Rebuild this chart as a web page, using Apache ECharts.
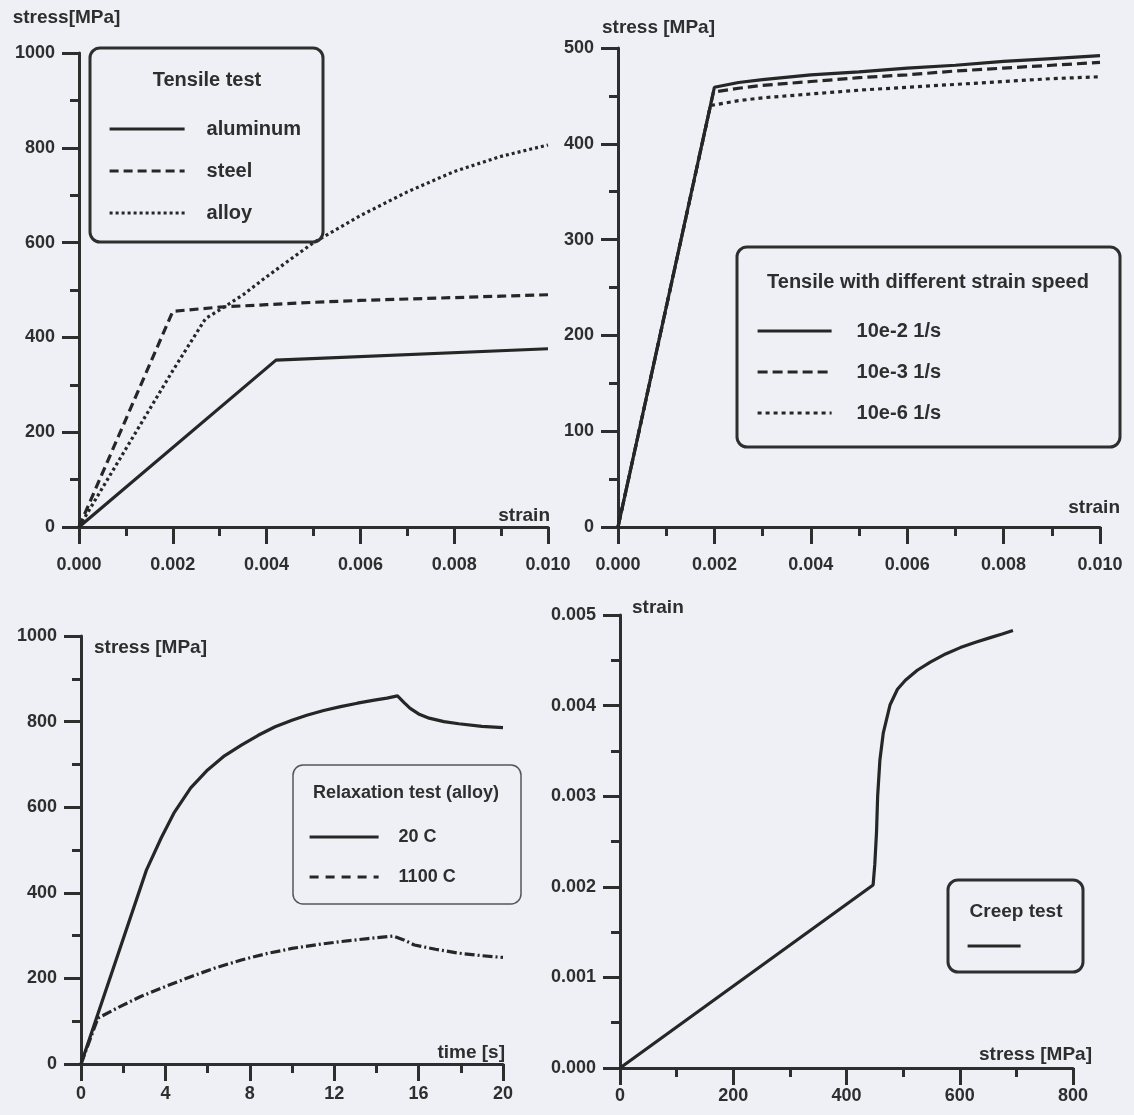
<!DOCTYPE html>
<html>
<head>
<meta charset="utf-8">
<script src="https://cdn.jsdelivr.net/npm/echarts@6/dist/echarts.min.js"></script>
<style>
html,body{margin:0;padding:0;background:#eef0f5;}
#c{width:1134px;height:1115px;}
</style>
</head>
<body>
<div id="c"></div>
<script>
// ---------- Chart 1: Tensile test ----------
const aluminumStrain = [0, 0.0042, 0.010];
const aluminumStress = [0, 352, 376];
const steelStrain = [0, 0.002, 0.003, 0.004, 0.005, 0.006, 0.007, 0.008, 0.009, 0.010];
const steelStress = [0, 455, 464, 469, 474, 478, 481, 484, 487, 490];
const alloyStrain = [0, 0.001, 0.002, 0.0027, 0.003, 0.0035, 0.004, 0.005, 0.006, 0.007, 0.008, 0.009, 0.010];
const alloyStress = [0, 165, 330, 440, 458, 490, 528, 600, 657, 707, 750, 782, 806];

// ---------- Chart 2: strain speed ----------
const speed2Strain = [0, 0.002, 0.0025, 0.003, 0.004, 0.005, 0.006, 0.007, 0.008, 0.009, 0.010];
const speed2Stress = [0, 459, 464, 467, 472, 475, 479, 482, 486, 489, 492];
const speed3Strain = [0, 0.00198, 0.0025, 0.003, 0.004, 0.005, 0.006, 0.007, 0.008, 0.009, 0.010];
const speed3Stress = [0, 454, 458, 461, 465, 469, 472, 476, 479, 482, 485];
const speed6Strain = [0, 0.00192, 0.0025, 0.003, 0.004, 0.005, 0.006, 0.007, 0.008, 0.009, 0.010];
const speed6Stress = [0, 440, 445, 448, 452, 456, 459, 462, 465, 468, 470];

// ---------- Chart 3: Relaxation test ----------
const relax20Time = [0, 3.1, 3.8, 4.4, 5.2, 6.0, 6.8, 7.6, 8.4, 9.2, 10.0, 10.7, 11.5, 12.3, 13.1, 13.9, 14.5, 15.0, 15.3, 15.6, 16.0, 16.5, 17.2, 17.9, 19.0, 20];
const relax20Stress = [0, 453, 528, 586, 645, 687, 720, 745, 768, 788, 803, 815, 826, 835, 843, 850, 855, 860, 845, 831, 818, 808, 800, 795, 789, 786];
const relax1100Time = [0, 0.8, 1.8, 2.8, 4.0, 5.2, 6.4, 7.6, 8.8, 10.0, 11.2, 12.3, 13.6, 14.8, 15.3, 15.8, 16.8, 17.9, 19.0, 20];
const relax1100Stress = [0, 107, 133, 157, 181, 204, 225, 243, 258, 270, 279, 286, 293, 299, 290, 278, 268, 259, 253, 249];

// ---------- Chart 4: Creep test ----------
const creepStress = [0, 447, 450, 453, 455, 459, 465, 477, 490, 504, 525, 548, 575, 601, 628, 654, 675, 694];
const creepStrain = [0, 0.00202, 0.00225, 0.0026, 0.003, 0.0034, 0.0037, 0.00401, 0.00418, 0.00428, 0.00439, 0.00448, 0.00457, 0.00464, 0.0047, 0.00475, 0.00479, 0.00483];

// ---------- texts ----------
const titles = ['Tensile test', 'Tensile with different strain speed', 'Relaxation test (alloy)', 'Creep test'];
const names1 = ['aluminum', 'steel', 'alloy'];
const names2 = ['10e-2 1/s', '10e-3 1/s', '10e-6 1/s'];
const names3 = ['20 C', '1100 C'];
const names4 = ['Creep test'];

const FONT = "'Liberation Sans', Arial, Helvetica, sans-serif";
const INK = '#2e2e2e';
const LINE = '#262626';

function pairs(xs, ys) { return xs.map((x, i) => [x, ys[i]]); }

function axisBase(gridIndex, min, max, interval, decimals, margin) {
  return {
    type: 'value', gridIndex, min, max, interval,
    axisLine: { show: true, onZero: false, lineStyle: { color: INK, width: 3 } },
    axisTick: { show: true, length: 17, lineStyle: { color: INK, width: 3 } },
    minorTick: { show: true, splitNumber: 2, length: 9, lineStyle: { color: INK, width: 3 } },
    splitLine: { show: false },
    minorSplitLine: { show: false },
    axisLabel: {
      margin, fontSize: 18, fontWeight: 'bold', color: INK, fontFamily: FONT,
      formatter: v => Number(v).toFixed(decimals)
    },
    nameTextStyle: { fontSize: 19, fontWeight: 'bold', color: INK, fontFamily: FONT }
  };
}

function xAxis(gridIndex, min, max, interval, decimals, margin, name, gap, padBottom) {
  const a = axisBase(gridIndex, min, max, interval, decimals, margin);
  a.name = name; a.nameLocation = 'end'; a.nameGap = gap;
  a.nameTextStyle.align = 'right';
  a.nameTextStyle.verticalAlign = 'bottom';
  a.nameTextStyle.padding = [0, 0, padBottom, 0];
  return a;
}
function yAxis(gridIndex, min, max, interval, decimals, name, gap, align, pad) {
  const a = axisBase(gridIndex, min, max, interval, decimals, 24);
  a.name = name; a.nameLocation = 'end'; a.nameGap = gap;
  a.nameTextStyle.align = align;
  a.nameTextStyle.verticalAlign = 'middle';
  a.nameTextStyle.padding = pad;
  return a;
}

function line(name, idx, data, type) {
  return {
    type: 'line', name, xAxisIndex: idx, yAxisIndex: idx, data,
    symbol: 'none', showSymbol: false, smooth: false, animation: false,
    lineStyle: { color: LINE, width: 3.2, type: type || 'solid', cap: 'butt' },
    itemStyle: { color: LINE }
  };
}

function legend(names, left, top, itemWidth, itemGap, fontSize, textPad, fmt) {
  const l = {
    orient: 'vertical', left, top, padding: 0, itemWidth, itemHeight: 20, itemGap,
    selectedMode: false, data: names,
    itemStyle: { color: 'rgba(0,0,0,0)', borderWidth: 0, opacity: 0 },
    lineStyle: { width: 3.2, color: LINE },
    textStyle: { fontSize, fontWeight: 'bold', color: INK, fontFamily: FONT, padding: [0, 0, 0, textPad] }
  };
  if (fmt) l.formatter = fmt;
  return l;
}

function box(x, y, w, h, lw, stroke) {
  return { type: 'rect', shape: { x, y, width: w, height: h, r: 10 }, style: { fill: 'none', stroke, lineWidth: lw }, z: 50 };
}
function label(text, x, y, size) {
  return { type: 'text', x, y, z: 51, style: { text, fill: INK, font: 'bold ' + size + 'px ' + FONT, textAlign: 'center', textVerticalAlign: 'middle', verticalAlign: 'middle' } };
}

const option = {
  backgroundColor: '#eef0f5',
  animation: false,
  grid: [
    { left: 79, top: 53, width: 469, height: 474 },
    { left: 618, top: 48, width: 482, height: 479 },
    { left: 81, top: 636, width: 422, height: 428 },
    { left: 620, top: 615, width: 453, height: 453 }
  ],
  xAxis: [
    xAxis(0, 0, 0.010, 0.002, 3, 29, 'strain', 2, 2),
    xAxis(1, 0, 0.010, 0.002, 3, 29, 'strain', 20, 10),
    xAxis(2, 0, 20, 4, 0, 21, 'time [s]', 2, 2),
    xAxis(3, 0, 800, 200, 0, 19, 'stress [MPa]', 19, 4)
  ],
  yAxis: [
    yAxis(0, 0, 1000, 200, 0, 'stress[MPa]', 35, 'center', [0, 25, 0, 0]),
    yAxis(1, 0, 500, 100, 0, 'stress [MPa]', 20, 'center', [0, 0, 0, 81]),
    yAxis(2, 0, 1000, 200, 0, 'stress [MPa]', -12, 'left', [0, 0, 0, 13]),
    yAxis(3, 0, 0.005, 0.001, 3, 'strain', 7, 'left', [0, 0, 0, 12])
  ],
  legend: [
    legend(names1, 108, 119, 75, 22, 20, 17),
    legend(names2, 756, 321, 74, 21, 20, 20),
    legend([{ name: names3[0] }, { name: names3[1], lineStyle: { type: [9, 7] } }], 308, 828, 69, 22, 18, 15),
    legend(names4, 966, 936, 53, 10, 18, 0, () => '')
  ],
  graphic: [
    box(90, 48, 233, 194, 3, INK),
    label(titles[0], 207, 80, 20),
    box(737, 247, 383, 200, 3, INK),
    label(titles[1], 928, 282, 20),
    box(293, 765, 228, 139, 1.5, '#555'),
    label(titles[2], 406, 793, 18),
    box(948, 880, 135, 92, 3, INK),
    label(titles[3], 1016, 912, 19)
  ],
  series: [
    line(names1[0], 0, pairs(aluminumStrain, aluminumStress)),
    line(names1[1], 0, pairs(steelStrain, steelStress), [9, 5]),
    line(names1[2], 0, pairs(alloyStrain, alloyStress), [3, 3]),
    line(names2[0], 1, pairs(speed2Strain, speed2Stress)),
    line(names2[1], 1, pairs(speed3Strain, speed3Stress), [10, 5]),
    line(names2[2], 1, pairs(speed6Strain, speed6Stress), [4, 4]),
    line(names3[0], 2, pairs(relax20Time, relax20Stress)),
    line(names3[1], 2, pairs(relax1100Time, relax1100Stress), [10, 3, 2, 3]),
    line(names4[0], 3, pairs(creepStress, creepStrain))
  ]
};

const chart = echarts.init(document.getElementById('c'), null, { renderer: 'canvas' });
chart.setOption(option);
</script>
</body>
</html>
